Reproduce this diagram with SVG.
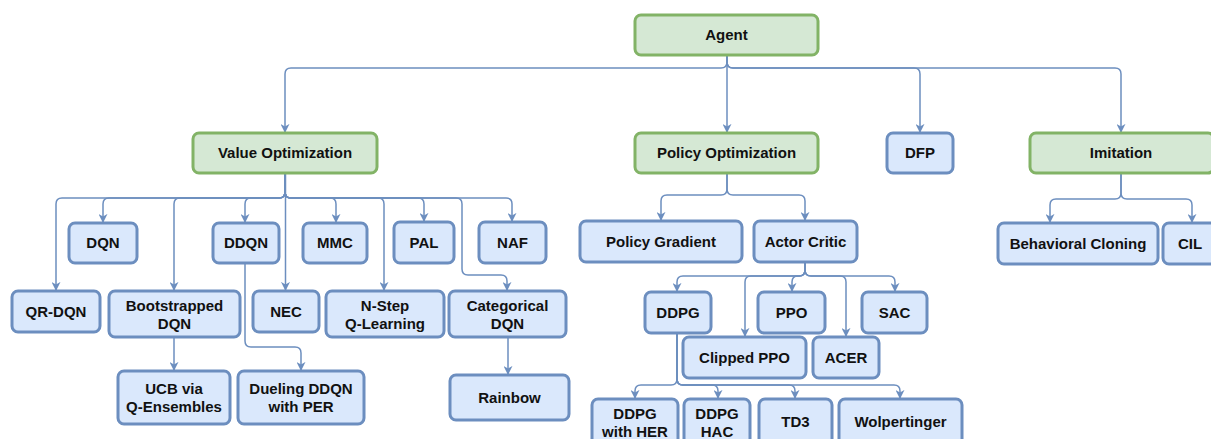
<svg xmlns="http://www.w3.org/2000/svg" width="1211" height="439" viewBox="0 0 1211 439">
<style>
.g rect{fill:#d5e8d4;stroke:#82b366;stroke-width:3}
.b rect{fill:#dae8fc;stroke:#6c8ebf;stroke-width:3}
text{font-family:"Liberation Sans",Arial,sans-serif;font-weight:bold;font-size:15px;text-anchor:middle;fill:#111}
#edges path{fill:none;stroke:#6c8ebf;stroke-width:1.5;marker-end:url(#a)}
</style>
<defs>
<marker id="a" viewBox="0 0 10 10" refX="9" refY="5" markerWidth="9" markerHeight="9" markerUnits="userSpaceOnUse" orient="auto">
<path d="M0,0 L10,5 L0,10 L3,5 Z" fill="#6c8ebf"/>
</marker>
</defs>
<rect width="1211" height="439" fill="#fff"/>
<g id="edges">
<path d="M727,55 V62 Q727,68 721,68 H291 Q285,68 285,74 V132"/>
<path d="M727,55 V132"/>
<path d="M727,55 V62 Q727,68 733,68 H914 Q920,68 920,74 V132"/>
<path d="M727,55 V62 Q727,68 733,68 H1115 Q1121,68 1121,74 V132"/>
<path d="M285,173 V192 Q285,198 279,198 H62 Q56,198 56,204 V290"/>
<path d="M285,173 V192 Q285,198 279,198 H109 Q103,198 103,204 V222"/>
<path d="M285,173 V192 Q285,198 279,198 H180 Q174,198 174,204 V290"/>
<path d="M285,173 V192 Q285,198 279,198 H251 Q245,198 245,204 V222"/>
<path d="M285.5,173 V290"/>
<path d="M285,173 V192 Q285,198 291,198 H330 Q336,198 336,204 V222"/>
<path d="M285,173 V192 Q285,198 291,198 H378 Q384,198 384,204 V290"/>
<path d="M285,173 V192 Q285,198 291,198 H418 Q424,198 424,204 V221"/>
<path d="M285,173 V192 Q285,198 291,198 H456 Q462,198 462,204 V269 Q462,275 468,275 H501 Q507,275 507,281 V290"/>
<path d="M285,173 V192 Q285,198 291,198 H506 Q512,198 512,204 V221"/>
<path d="M174,337 V370"/>
<path d="M245,263 V341 Q245,347 251,347 H295 Q301,347 301,353 V370"/>
<path d="M508,337 V374"/>
<path d="M727,173 V189 Q727,195 721,195 H667 Q661,195 661,201 V220"/>
<path d="M727,173 V189 Q727,195 733,195 H799 Q805,195 805,201 V220"/>
<path d="M805,262 V270 Q805,276 799,276 H683 Q677,276 677,282 V291"/>
<path d="M805,262 V270 Q805,276 799,276 H751 Q745,276 745,282 V336"/>
<path d="M805,262 V270 Q805,276 799,276 H798 Q792,276 792,282 V291"/>
<path d="M805,262 V270 Q805,276 811,276 H840 Q846,276 846,282 V336"/>
<path d="M805,262 V270 Q805,276 811,276 H889 Q895,276 895,282 V291"/>
<path d="M677,333 V379 Q677,385 671,385 H641 Q635,385 635,391 V398"/>
<path d="M677,333 V379 Q677,385 683,385 H712 Q718,385 718,391 V398"/>
<path d="M677,333 V379 Q677,385 683,385 H789 Q795,385 795,391 V398"/>
<path d="M677,333 V379 Q677,385 683,385 H894 Q900,385 900,391 V398"/>
<path d="M1121,173 V193 Q1121,199 1115,199 H1056 Q1050,199 1050,205 V222"/>
<path d="M1121,173 V193 Q1121,199 1127,199 H1186 Q1192,199 1192,205 V222"/>
</g>
<g id="agent" class="g"><rect x="635" y="15" width="183" height="40" rx="6"/><text x="726.5" y="40">Agent</text></g>
<g id="value-optimization" class="g"><rect x="193" y="133" width="184" height="40" rx="6"/><text x="285" y="158">Value Optimization</text></g>
<g id="policy-optimization" class="g"><rect x="635" y="133" width="183" height="40" rx="6"/><text x="726.5" y="158">Policy Optimization</text></g>
<g id="dfp" class="b"><rect x="887" y="133" width="66" height="40" rx="6"/><text x="920" y="158">DFP</text></g>
<g id="imitation" class="g"><rect x="1030" y="133" width="184" height="40" rx="6"/><text x="1121" y="158">Imitation</text></g>
<g id="dqn" class="b"><rect x="69" y="223" width="68" height="40" rx="6"/><text x="103" y="248">DQN</text></g>
<g id="ddqn" class="b"><rect x="213" y="223" width="66" height="40" rx="6"/><text x="246" y="248">DDQN</text></g>
<g id="mmc" class="b"><rect x="303" y="223" width="64" height="40" rx="6"/><text x="335" y="248">MMC</text></g>
<g id="pal" class="b"><rect x="394" y="222" width="60" height="41" rx="6"/><text x="424" y="248">PAL</text></g>
<g id="naf" class="b"><rect x="479" y="222" width="67" height="41" rx="6"/><text x="512.5" y="248">NAF</text></g>
<g id="qr-dqn" class="b"><rect x="12" y="291" width="88" height="41" rx="6"/><text x="56" y="317">QR-DQN</text></g>
<g id="bootstrapped-dqn" class="b"><rect x="109" y="291" width="131" height="46" rx="6"/><text x="174.5" y="311">Bootstrapped</text><text x="174.5" y="329">DQN</text></g>
<g id="nec" class="b"><rect x="253" y="291" width="66" height="41" rx="6"/><text x="286" y="317">NEC</text></g>
<g id="n-step" class="b"><rect x="326" y="291" width="118" height="46" rx="6"/><text x="385" y="311">N-Step</text><text x="385" y="329">Q-Learning</text></g>
<g id="categorical-dqn" class="b"><rect x="449" y="291" width="117" height="46" rx="6"/><text x="507.5" y="311">Categorical</text><text x="507.5" y="329">DQN</text></g>
<g id="ucb" class="b"><rect x="118" y="371" width="112" height="53" rx="6"/><text x="174" y="394">UCB via</text><text x="174" y="412">Q-Ensembles</text></g>
<g id="dueling-ddqn" class="b"><rect x="238" y="371" width="126" height="53" rx="6"/><text x="301" y="394">Dueling DDQN</text><text x="301" y="412">with PER</text></g>
<g id="rainbow" class="b"><rect x="450" y="375" width="119" height="45" rx="6"/><text x="509.5" y="403">Rainbow</text></g>
<g id="policy-gradient" class="b"><rect x="580" y="221" width="162" height="41" rx="6"/><text x="661" y="247">Policy Gradient</text></g>
<g id="actor-critic" class="b"><rect x="754" y="221" width="103" height="41" rx="6"/><text x="805.5" y="247">Actor Critic</text></g>
<g id="ddpg" class="b"><rect x="645" y="292" width="66" height="41" rx="6"/><text x="678" y="318">DDPG</text></g>
<g id="ppo" class="b"><rect x="758" y="292" width="67" height="41" rx="6"/><text x="791.5" y="318">PPO</text></g>
<g id="sac" class="b"><rect x="862" y="292" width="65" height="41" rx="6"/><text x="894.5" y="318">SAC</text></g>
<g id="clipped-ppo" class="b"><rect x="683" y="337" width="123" height="41" rx="6"/><text x="744.5" y="363">Clipped PPO</text></g>
<g id="acer" class="b"><rect x="813" y="337" width="66" height="41" rx="6"/><text x="846" y="363">ACER</text></g>
<g id="ddpg-her" class="b"><rect x="592" y="399" width="86" height="46" rx="6"/><text x="635" y="419">DDPG</text><text x="635" y="437">with HER</text></g>
<g id="ddpg-hac" class="b"><rect x="684" y="399" width="66" height="46" rx="6"/><text x="717" y="419">DDPG</text><text x="717" y="437">HAC</text></g>
<g id="td3" class="b"><rect x="759" y="399" width="73" height="46" rx="6"/><text x="795.5" y="427">TD3</text></g>
<g id="wolpertinger" class="b"><rect x="839" y="399" width="123" height="46" rx="6"/><text x="900.5" y="427">Wolpertinger</text></g>
<g id="behavioral-cloning" class="b"><rect x="998" y="223" width="160" height="41" rx="6"/><text x="1078" y="249">Behavioral Cloning</text></g>
<g id="cil" class="b"><rect x="1163" y="223" width="56" height="41" rx="6"/><text x="1190" y="249">CIL</text></g>
</svg>
